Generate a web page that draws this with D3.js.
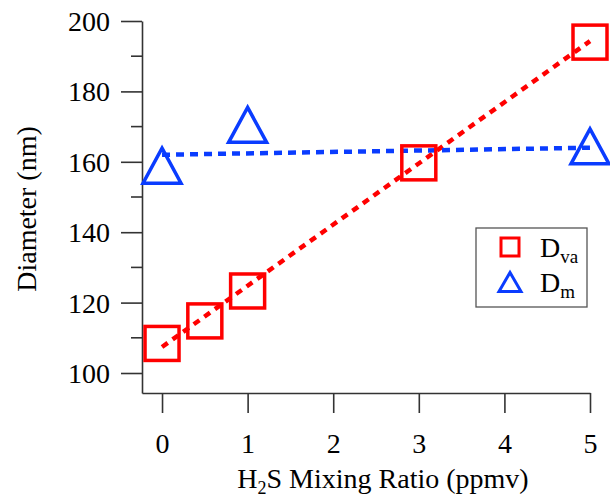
<!DOCTYPE html>
<html>
<head>
<meta charset="utf-8">
<script src="https://d3js.org/d3.v7.min.js"></script>
<style>
    body { margin: 0; background: #fff; }
    svg { display: block; font-family: "Liberation Serif", "Times New Roman", serif; }
</style>
</head>
<body>
<div id="chart"></div>
<script>
// values
var dvaRatio = [0, 0.5, 1, 3, 5];
var dvaDiam = [108.4, 114.8, 123.3, 159.7, 194.0];
var dmRatio = [0, 1, 5];
var dmDiam = [158.9, 170.5, 164.4];
// linear fits drawn as dashed lines (end points)
var dvaFit = [[0, 107.4], [5, 194.3]];
var dmFit = [[0, 162.0], [5, 164.0]];
var xTicks = [0, 1, 2, 3, 4, 5];
var yTicks = [100, 120, 140, 160, 180, 200];
var yMinor = [110, 130, 150, 170, 190];

var svgwidth = 610, svgheight = 496;
var red = "#ff0000", blue = "#0a3cff";

var svg = d3.select("#chart")
        .append("svg")
        .attr("width", svgwidth)
        .attr("height", svgheight);

var x = d3.scaleLinear().domain([-0.234, 5]).range([142, 590]);
var y = d3.scaleLinear().domain([94.32, 200]).range([393, 21]);

// x axis
var xAxisg = svg.append("g")
        .attr("transform", "translate(0,393)")
        .call(d3.axisBottom(x).tickValues(xTicks).tickFormat(d3.format("d"))
            .tickSize(20).tickSizeOuter(0));
xAxisg.selectAll("text")
        .attr("y", 60).attr("dy", 0);

// y axis with minor ticks
var yAxisg = svg.append("g")
        .attr("transform", "translate(142,0)")
        .call(d3.axisLeft(y).tickValues(yTicks).tickFormat(d3.format("d"))
            .tickSize(21).tickPadding(11).tickSizeOuter(0));
yAxisg.selectAll("text")
        .attr("dy", "0.34em");
yAxisg.selectAll(".minor")
        .data(yMinor)
        .enter().append("line")
        .attr("class", "minor")
        .attr("x1", -11).attr("x2", 0)
        .attr("y1", function(d) { return y(d); })
        .attr("y2", function(d) { return y(d); });

svg.selectAll(".domain, .tick line, .minor")
        .attr("stroke", "#333")
        .attr("stroke-width", 1.6);
// drop d3's default sans-serif / 10px on the axis groups
xAxisg.attr("font-family", null).attr("font-size", null);
yAxisg.attr("font-family", null).attr("font-size", null);
svg.selectAll(".tick text")
        .attr("fill", "#000")
        .style("font-size", "28px");

// axis titles
var xTitle = svg.append("text")
        .attr("x", 383).attr("y", 488)
        .attr("text-anchor", "middle")
        .style("font-size", "28px");
xTitle.append("tspan").text("H");
xTitle.append("tspan").attr("dy", 6).style("font-size", "18px").text("2");
xTitle.append("tspan").attr("dy", -6).text("S Mixing Ratio (ppmv)");

svg.append("text")
        .attr("transform", "translate(36,209) rotate(-90)")
        .attr("text-anchor", "middle")
        .style("font-size", "28px")
        .text("Diameter (nm)");

// fit lines
var line = d3.line()
        .x(function(d) { return x(d[0]); })
        .y(function(d) { return y(d[1]); });

svg.append("path")
        .datum(dvaFit)
        .attr("d", line)
        .attr("fill", "none")
        .attr("stroke", red)
        .attr("stroke-width", 4.5)
        .attr("stroke-dasharray", "7,6");

svg.append("path")
        .datum(dmFit)
        .attr("d", line)
        .attr("fill", "none")
        .attr("stroke", blue)
        .attr("stroke-width", 4.5)
        .attr("stroke-dasharray", "8,6");

// markers
var dva = dvaRatio.map(function(d, i) { return [d, dvaDiam[i]]; });
var dm = dmRatio.map(function(d, i) { return [d, dmDiam[i]]; });

function trianglePath(cx, cy, w, h) {
    return "M" + cx + "," + (cy - h / 2) + "L" + (cx + w / 2) + "," + (cy + h / 2) +
        "L" + (cx - w / 2) + "," + (cy + h / 2) + "Z";
}

svg.append("g")
        .selectAll("rect")
        .data(dva)
        .enter().append("rect")
        .attr("x", function(d) { return x(d[0]) - 17; })
        .attr("y", function(d) { return y(d[1]) - 17; })
        .attr("width", 34)
        .attr("height", 34)
        .attr("fill", "none")
        .attr("stroke", red)
        .attr("stroke-width", 3.5);

svg.append("g")
        .selectAll("path")
        .data(dm)
        .enter().append("path")
        .attr("d", function(d) { return trianglePath(x(d[0]), y(d[1]), 38, 35); })
        .attr("fill", "none")
        .attr("stroke", blue)
        .attr("stroke-width", 3.5)
        .attr("stroke-linejoin", "miter");

// legend
var legend = svg.append("g");
legend.append("rect")
        .attr("x", 476).attr("y", 228)
        .attr("width", 111).attr("height", 79)
        .attr("fill", "#fff")
        .attr("stroke", "#555")
        .attr("stroke-width", 1.3);
legend.append("rect")
        .attr("x", 501).attr("y", 238)
        .attr("width", 18).attr("height", 18)
        .attr("fill", "none")
        .attr("stroke", red)
        .attr("stroke-width", 3);
legend.append("path")
        .attr("d", trianglePath(510, 282, 22, 19))
        .attr("fill", "none")
        .attr("stroke", blue)
        .attr("stroke-width", 3);

var t1 = legend.append("text").attr("x", 540).attr("y", 257).style("font-size", "28px");
t1.append("tspan").text("D");
t1.append("tspan").attr("dy", 6).style("font-size", "19px").text("va");
var t2 = legend.append("text").attr("x", 540).attr("y", 292).style("font-size", "28px");
t2.append("tspan").text("D");
t2.append("tspan").attr("dy", 6).style("font-size", "19px").text("m");
</script>
</body>
</html>
